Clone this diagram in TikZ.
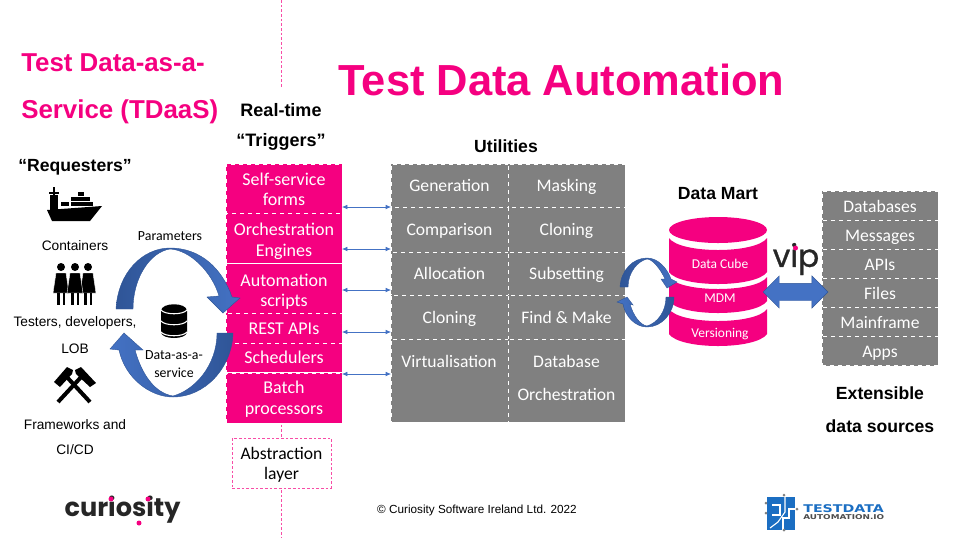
\documentclass[tikz,border=0pt]{standalone}
\usepackage{fontspec}
\setmainfont{Liberation Sans}
\newfontfamily\calfont{Carlito}
\newfontfamily\logofont{Poppins}
\newfontfamily\vipfont[FakeBold=1]{Poppins}
\newfontfamily\widefont{DejaVu Sans}
\usepackage{tikz}
\usetikzlibrary{arrows.meta,shapes.arrows}
\definecolor{tdapink}{HTML}{F50080}
\definecolor{tdagrey}{HTML}{808080}
\definecolor{loopdark}{HTML}{2F5597}
\definecolor{looplight}{HTML}{4472C4}
\definecolor{logoblue}{HTML}{1B6EC2}
\tikzset{
  pinkcell/.style={fill=tdapink, draw=white, dashed, line width=0.5pt, text=white, font=\calfont\fontsize{13.5}{15.5}\selectfont, align=center, minimum width=87pt, inner sep=0pt},
  greycell/.style={fill=tdagrey, draw=white, dashed, line width=0.5pt, text=white, font=\calfont\fontsize{13.2}{15}\selectfont, align=center, minimum width=88pt, inner sep=0pt},
  onerow/.style={text height=10.5pt, text depth=1.5pt},
  celltext/.style={text=white, font=\calfont\fontsize{13.2}{15}\selectfont, inner sep=0pt},
  srccell/.style={greycell, onerow, minimum width=87pt, minimum height=21.8pt},
  bigtitle/.style={font=\bfseries\fontsize{19.4}{22}\selectfont, text=tdapink, anchor=west, inner sep=0pt},
  headtext/.style={font=\bfseries\fontsize{13.2}{15}\selectfont, inner sep=0pt},
  smalltext/.style={font=\fontsize{10.3}{12}\selectfont, inner sep=0pt},
  caltext/.style={font=\calfont\fontsize{10.4}{12}\selectfont, inner sep=0pt},
  cubetext/.style={text=white, font=\calfont\fontsize{10.1}{12}\selectfont, inner sep=0pt},
  linkarrow/.style={{Latex[length=4pt,width=3.5pt]}-{Latex[length=4pt,width=3.5pt]}, looplight, line width=0.5pt},
  looparrow/.style={draw=loopdark, line width=0.3pt},
  thinpink/.style={draw=tdapink!70, dash pattern=on 2pt off 1.5pt, line width=0.4pt},
}
\begin{document}
\begin{tikzpicture}[x=0.75pt,y=-0.75pt]
\useasboundingbox (0,0) rectangle (955,537);
\draw[thinpink] (281,0) -- (281,537);

\node[font=\bfseries\fontsize{32.6}{36}\selectfont, text=tdapink, inner sep=0pt] (maintitle) at (561.5,80) {Test Data Automation};
\node[bigtitle] (tdaas1) at (21,62.5) {Test Data-as-a-};
\node[bigtitle] (tdaas2) at (21,112) {Service (TDaaS)};
\node[headtext, fill=white, align=center, minimum width=66pt, minimum height=58pt, font=\bfseries\fontsize{13.5}{22.5}\selectfont] (triggers) at (281,127) {Real-time\\“Triggers”};
\node[headtext] (requesters) at (75,167) {“Requesters”};
\node[headtext] (utilities) at (506,146) {Utilities};
\node[headtext] (datamart) at (718,194) {Data Mart};
\node[headtext] (extensible) at (880,393) {Extensible};
\node[headtext] (datasources) at (880,426) {data sources};

\node[pinkcell, minimum height=37pt] (selfservice) at (284,188.5) {\rule{0pt}{10.5pt}Self-service\\forms};
\node[pinkcell, minimum height=37.5pt] (orchestration) at (284,238) {\rule{0pt}{14pt}Orchestration\\Engines};
\node[pinkcell, minimum height=37.5pt] (automation) at (284,288.5) {\rule{0pt}{14pt}Automation\\scripts};
\node[pinkcell, onerow, minimum height=22.5pt] (restapis) at (284,328) {REST APIs};
\node[pinkcell, onerow, minimum height=21.8pt] (schedulers) at (284,357.5) {Schedulers};
\node[pinkcell, minimum height=37.5pt] (batch) at (284,398) {\rule{0pt}{11pt}Batch\\processors};
\node[thinpink, fill=white, font=\calfont\fontsize{13.2}{15.5}\selectfont, align=center, minimum width=74pt, minimum height=37.5pt, inner sep=0pt] (abstraction) at (281.5,463) {\rule{0pt}{12pt}Abstraction\\layer};

\node[greycell, onerow, minimum height=32.3pt] (generation) at (449.5,185.5) {Generation};
\node[greycell, onerow, minimum height=33.8pt] (comparison) at (449.5,229.5) {Comparison};
\node[greycell, onerow, minimum height=32.3pt] (allocation) at (449.5,273.5) {Allocation};
\node[greycell, onerow, minimum height=33pt] (cloningb) at (449.5,317) {Cloning};
\node[greycell, minimum height=62.3pt] (virtual) at (449.5,380.5) {};
\node[greycell, onerow, minimum height=32.3pt] (masking) at (566.5,185.5) {Masking};
\node[greycell, onerow, minimum height=33.8pt] (cloninga) at (566.5,229.5) {Cloning};
\node[greycell, onerow, minimum height=32.3pt] (subsetting) at (566.5,273.5) {Subsetting};
\node[greycell, onerow, minimum height=33pt] (findmake) at (566.5,317) {Find \& Make};
\node[greycell, minimum height=62.3pt] (database) at (566.5,380.5) {};
\node[celltext] (virttext) at (449,361) {Virtualisation};
\node[celltext] (dbtext) at (566.5,361) {Database};
\node[celltext] (orchtext) at (566.5,394) {Orchestration};

\foreach \rowy [count=\rowi] in {207,249,290,332,374} {
  \coordinate (pinkside\rowi) at (342,\rowy);
  \coordinate (greyside\rowi) at (391,\rowy);
  \draw[linkarrow] (pinkside\rowi) -- (greyside\rowi);
}

\node[srccell] (databases) at (880,206) {Databases};
\node[srccell] (messages) at (880,235) {Messages};
\node[srccell] (apis) at (880,264) {APIs};
\node[srccell] (files) at (880,293) {Files};
\node[srccell] (mainframe) at (880,322) {Mainframe};
\node[srccell] (apps) at (880,351) {Apps};

\fill[tdapink] (718,230) ellipse [x radius=49, y radius=13];
\foreach \ytop/\ybot in {238/272,277/301,309/334}
  \fill[tdapink] (669,\ytop) .. controls (680,\ytop+16) and (756,\ytop+16) .. (767,\ytop) -- (767,\ybot) .. controls (756,\ybot+16) and (680,\ybot+16) .. (669,\ybot) -- cycle;
\node[cubetext] (datacube) at (720,264) {Data Cube};
\node[cubetext] (mdm) at (720,298) {MDM};
\node[cubetext] (versioning) at (720,334) {Versioning};

\node[double arrow, fill=looplight, draw=loopdark, line width=0.3pt, minimum height=48.7pt, minimum width=24pt, double arrow head extend=5.6pt, inner sep=0pt, text height=12.75pt, text width=0pt] (syncarrow) at (795.5,292) {};

\path[looparrow, left color=loopdark, right color=looplight] (116,309) .. controls (118,272) and (143,248) .. (170,248) .. controls (200,248) and (222,268) .. (232,297) -- (240,298) -- (223,313) -- (207,297) -- (219,296) .. controls (212,272) and (190,250) .. (170,249) .. controls (150,252) and (133,278) .. (133,309) -- cycle;
\path[looparrow, left color=looplight, right color=loopdark] (233,333) .. controls (232,368) and (205,397) .. (173,397) .. controls (150,397) and (125,378) .. (119,350) -- (110,349) -- (124,333) -- (143,350) -- (135,350) .. controls (142,375) and (155,393) .. (173,396) .. controls (195,390) and (217,365) .. (217,333) -- cycle;
\path[looparrow, left color=loopdark, right color=looplight] (620,287) .. controls (621,270) and (633,258) .. (647,258) .. controls (658,258) and (667,268) .. (671,279) -- (677,282) -- (667,288) -- (661,279) -- (665,279) .. controls (660,268) and (652,259) .. (647,259) .. controls (638,261) and (628,272) .. (628,287) -- cycle;
\path[looparrow, left color=looplight, right color=loopdark] (674,297) .. controls (674,313) and (662,327) .. (647,327) .. controls (635,327) and (625,316) .. (623,304) -- (617,302) -- (627,297) -- (633,305) -- (630,304) .. controls (633,315) and (640,325) .. (647,326) .. controls (657,323) and (666,312) .. (666,297) -- cycle;

\node[smalltext] (containers) at (75,246) {Containers};
\node[smalltext] (testers) at (75,323) {Testers, developers,};
\node[smalltext] (lob) at (75,348.5) {LOB};
\node[smalltext] (frameworks) at (75,425) {Frameworks and};
\node[smalltext] (cicd) at (75,449.5) {CI/CD};
\node[caltext] (parameters) at (170,236) {Parameters};
\node[caltext, align=center, font=\calfont\fontsize{10.4}{13.5}\selectfont] (dataservice) at (174,364) {Data-as-a-\\service};

\fill (47,210) -- (102,206) -- (90,221) -- (52,221) -- cycle;
\fill (50,195) rectangle (58,210);
\fill (52.5,187) rectangle (54.5,195);
\fill (49,192) rectangle (59,194);
\foreach \bx/\by/\bw in {61/202/8,71/202/22,71/197/19,78/192/6} {
  \fill (\bx,\by) rectangle (\bx+\bw,\by+4);
}

\foreach \fx in {61,88,75} {
  \fill (\fx,267) circle [radius=4];
  \fill[draw=white, line width=0.3pt] (\fx-5,273) -- (\fx+5,273) -- (\fx+8,293) -- (\fx-8,293) -- cycle;
  \fill (\fx-4,293) rectangle (\fx-1.5,305);
  \fill (\fx+1.5,293) rectangle (\fx+4,305);
}

\draw[line width=3pt] (58,402) -- (83,375);
\draw[line width=3pt] (90,402) -- (65,375);
\fill (54,382) -- (67,367) -- (73,370) -- (72,374) -- (60,387) -- cycle;
\fill (96,383) -- (81,367) -- (75,370) -- (76,374) -- (90,387) -- cycle;

\fill (161,311) .. controls (161,302) and (187,302) .. (187,311) -- (187,332) .. controls (187,340) and (161,340) .. (161,332) -- cycle;
\foreach \ringy in {310,321,332}
  \draw[white, line width=0.8pt] (161,\ringy) .. controls (165,\ringy+5) and (183,\ringy+5) .. (187,\ringy);

\node[font=\vipfont\fontsize{23.5}{26}\selectfont, text=black!85, inner sep=0pt] (viplogo) at (796,259) {vip};
\fill[tdapink] (795.5,248) circle [radius=2.5];

\node[font=\logofont\bfseries\fontsize{19.2}{24}\selectfont, text=black!85, inner sep=0pt] (curiositylogo) at (122.5,510) {curiosity};
\fill[tdapink] (111,499) circle [radius=2.5];
\fill[tdapink] (148,499) circle [radius=2.5];
\fill[tdapink] (139,523) circle [radius=2.5];

\fill[logoblue] (767,497) rectangle (795,530);
\draw[white, line width=0.8pt] (772,505) -- (780,505) -- (780,515) -- (772,515);
\draw[white, line width=0.8pt] (785,497) -- (785,512) -- (778,522) -- (770,528);
\draw[white, line width=0.8pt] (795,509) -- (789,509) -- (789,518) -- (783,518) -- (783,530);
\foreach \dotx/\doty in {784/495,766/503,766/513,797/509,784/530}
  \fill[gray] (\dotx,\doty) circle [radius=1.5];
\node[font=\widefont\bfseries\fontsize{8}{9}\selectfont, text=logoblue, inner sep=0pt, anchor=west, xscale=1.33, transform shape] (logotop) at (803,509) {TESTDATA};
\node[font=\widefont\bfseries\fontsize{5}{6}\selectfont, text=black!70, inner sep=0pt, anchor=west, xscale=1.33, transform shape] (logobottom) at (803,517) {AUTOMATION.IO};

\node[font=\fontsize{8.8}{10}\selectfont, inner sep=0pt] (copyright) at (477,510) {© Curiosity Software Ireland Ltd. 2022};
\end{tikzpicture}
\end{document}
